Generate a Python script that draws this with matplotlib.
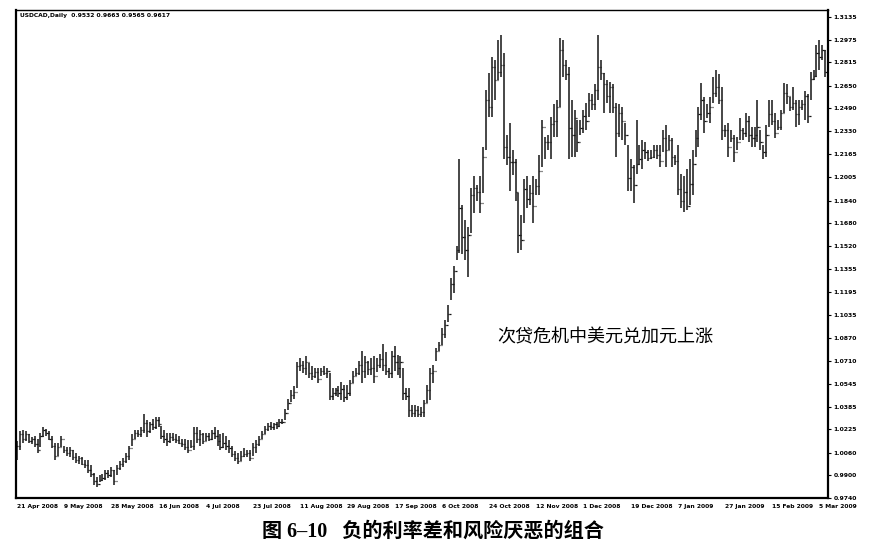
import matplotlib
matplotlib.use("Agg")
import matplotlib.pyplot as plt
import numpy as np

# USDCAD daily bars (prices)
closes = [
    1.011, 1.019, 1.016, 1.019, 1.014, 1.016, 1.012, 1.008, 1.018, 1.022,
    1.020, 1.016, 1.011, 1.004, 1.010, 1.016, 1.008, 1.006, 1.008, 1.003,
    1.001, 1.002, 0.998, 0.997, 0.994, 0.991, 0.986, 0.984, 0.987, 0.988,
    0.992, 0.990, 0.994, 0.986, 0.995, 0.998, 1.000, 1.004, 1.009, 1.016,
    1.020, 1.019, 1.022, 1.027, 1.021, 1.026, 1.024, 1.029, 1.026, 1.018,
    1.016, 1.014, 1.017, 1.016, 1.015, 1.013, 1.012, 1.010, 1.008, 1.011,
    1.020, 1.016, 1.019, 1.014, 1.018, 1.016, 1.020, 1.018, 1.014, 1.010,
    1.013, 1.011, 1.009, 1.005, 1.002, 1.000, 1.004, 1.005, 1.006, 1.002,
    1.010, 1.012, 1.016, 1.019, 1.023, 1.025, 1.024, 1.026, 1.025, 1.028,
    1.028, 1.034, 1.041, 1.047, 1.049, 1.067, 1.068, 1.066, 1.070, 1.062,
    1.060, 1.063, 1.058, 1.064, 1.062, 1.064, 1.046, 1.048, 1.050, 1.048,
    1.051, 1.045, 1.048, 1.055, 1.060, 1.062, 1.068, 1.064, 1.070, 1.065,
    1.066, 1.060, 1.068, 1.072, 1.068, 1.064, 1.062, 1.074, 1.070, 1.066,
    1.070, 1.048, 1.046, 1.036, 1.034, 1.036, 1.033, 1.035, 1.041, 1.050,
    1.062, 1.064, 1.078, 1.082, 1.090, 1.096, 1.104, 1.125, 1.134, 1.149,
    1.179, 1.158, 1.149, 1.160, 1.188, 1.193, 1.190, 1.182, 1.215, 1.255,
    1.250, 1.278, 1.269, 1.275, 1.280, 1.222, 1.215, 1.211, 1.211, 1.190,
    1.160, 1.156, 1.192, 1.185, 1.189, 1.180, 1.194, 1.205, 1.236, 1.225,
    1.225, 1.238, 1.240, 1.250, 1.290, 1.280, 1.273, 1.235, 1.230, 1.242,
    1.225, 1.235, 1.244, 1.240, 1.255, 1.252, 1.262, 1.278, 1.274, 1.266,
    1.258, 1.264, 1.250, 1.232, 1.246, 1.240, 1.230, 1.200, 1.208, 1.195,
    1.210, 1.213, 1.220, 1.218, 1.214, 1.215, 1.220, 1.216, 1.212, 1.228,
    1.220, 1.227, 1.215, 1.212, 1.192, 1.184, 1.190, 1.180, 1.196, 1.210,
    1.228, 1.245, 1.255, 1.240, 1.246, 1.250, 1.260, 1.264, 1.255, 1.234,
    1.234, 1.222, 1.228, 1.218, 1.225, 1.234, 1.232, 1.240, 1.230, 1.228,
    1.230, 1.236, 1.225, 1.218, 1.230, 1.245, 1.240, 1.232, 1.236, 1.246,
    1.260, 1.258, 1.250, 1.253, 1.245, 1.250, 1.252, 1.258, 1.244, 1.270,
    1.272, 1.288, 1.285, 1.290, 1.275, 1.283,
]
highs = [
    1.014, 1.021, 1.022, 1.021, 1.019, 1.017, 1.018, 1.016, 1.020, 1.024,
    1.023, 1.021, 1.018, 1.013, 1.013, 1.018, 1.011, 1.010, 1.010, 1.008,
    1.006, 1.004, 1.003, 1.001, 1.001, 0.997, 0.992, 0.989, 0.990, 0.991,
    0.994, 0.994, 0.996, 0.994, 0.997, 1.000, 1.002, 1.006, 1.011, 1.019,
    1.022, 1.022, 1.024, 1.033, 1.029, 1.028, 1.030, 1.031, 1.031, 1.025,
    1.022, 1.020, 1.020, 1.020, 1.019, 1.018, 1.016, 1.016, 1.015, 1.015,
    1.024, 1.024, 1.022, 1.020, 1.020, 1.020, 1.022, 1.024, 1.022, 1.019,
    1.020, 1.018, 1.015, 1.011, 1.007, 1.006, 1.007, 1.009, 1.008, 1.008,
    1.013, 1.015, 1.018, 1.021, 1.025, 1.027, 1.028, 1.027, 1.028, 1.030,
    1.030, 1.037, 1.044, 1.050, 1.053, 1.070, 1.073, 1.071, 1.074, 1.069,
    1.067, 1.066, 1.066, 1.066, 1.067, 1.066, 1.062, 1.052, 1.052, 1.053,
    1.056, 1.054, 1.054, 1.057, 1.064, 1.066, 1.071, 1.078, 1.074, 1.071,
    1.073, 1.074, 1.073, 1.076, 1.083, 1.077, 1.066, 1.078, 1.081, 1.075,
    1.074, 1.066, 1.052, 1.052, 1.040, 1.040, 1.039, 1.038, 1.043, 1.054,
    1.066, 1.068, 1.080, 1.084, 1.094, 1.100, 1.110, 1.129, 1.138, 1.152,
    1.213, 1.181, 1.170, 1.165, 1.193, 1.201, 1.195, 1.201, 1.222, 1.262,
    1.274, 1.285, 1.283, 1.297, 1.301, 1.288, 1.230, 1.239, 1.220, 1.213,
    1.189, 1.174, 1.199, 1.201, 1.195, 1.201, 1.199, 1.216, 1.241, 1.229,
    1.230, 1.243, 1.252, 1.255, 1.299, 1.297, 1.283, 1.278, 1.255, 1.248,
    1.241, 1.241, 1.248, 1.253, 1.260, 1.259, 1.266, 1.301, 1.283, 1.274,
    1.269, 1.268, 1.266, 1.253, 1.252, 1.250, 1.239, 1.223, 1.213, 1.209,
    1.241, 1.223, 1.227, 1.225, 1.220, 1.220, 1.223, 1.223, 1.223, 1.234,
    1.237, 1.230, 1.228, 1.216, 1.223, 1.203, 1.201, 1.206, 1.213, 1.220,
    1.234, 1.250, 1.267, 1.257, 1.252, 1.257, 1.271, 1.276, 1.273, 1.264,
    1.237, 1.239, 1.234, 1.230, 1.229, 1.242, 1.235, 1.246, 1.244, 1.236,
    1.236, 1.255, 1.234, 1.223, 1.237, 1.255, 1.255, 1.246, 1.241, 1.248,
    1.267, 1.266, 1.257, 1.264, 1.255, 1.255, 1.255, 1.261, 1.259, 1.275,
    1.276, 1.294, 1.297, 1.294, 1.290, 1.292,
]
lows = [
    1.001, 1.008, 1.013, 1.014, 1.013, 1.012, 1.010, 1.006, 1.010, 1.017,
    1.018, 1.015, 1.009, 1.001, 1.004, 1.010, 1.006, 1.004, 1.003, 1.001,
    0.999, 0.998, 0.997, 0.995, 0.992, 0.989, 0.983, 0.982, 0.985, 0.986,
    0.987, 0.988, 0.989, 0.983, 0.990, 0.994, 0.996, 0.999, 1.001, 1.011,
    1.016, 1.017, 1.017, 1.020, 1.017, 1.020, 1.022, 1.023, 1.024, 1.016,
    1.013, 1.011, 1.013, 1.014, 1.013, 1.012, 1.010, 1.008, 1.006, 1.009,
    1.008, 1.013, 1.011, 1.012, 1.014, 1.014, 1.015, 1.016, 1.011, 1.008,
    1.009, 1.008, 1.006, 1.003, 1.000, 0.998, 1.000, 1.003, 1.003, 1.000,
    1.004, 1.006, 1.011, 1.016, 1.019, 1.021, 1.022, 1.022, 1.023, 1.024,
    1.026, 1.029, 1.036, 1.042, 1.044, 1.052, 1.064, 1.062, 1.061, 1.059,
    1.057, 1.059, 1.055, 1.060, 1.061, 1.059, 1.043, 1.043, 1.046, 1.045,
    1.043, 1.042, 1.043, 1.046, 1.055, 1.060, 1.061, 1.055, 1.059, 1.061,
    1.061, 1.055, 1.063, 1.066, 1.064, 1.061, 1.059, 1.059, 1.064, 1.061,
    1.059, 1.043, 1.043, 1.031, 1.031, 1.031, 1.031, 1.031, 1.031, 1.041,
    1.043, 1.055, 1.071, 1.078, 1.082, 1.087, 1.098, 1.114, 1.119, 1.142,
    1.147, 1.146, 1.142, 1.130, 1.161, 1.175, 1.184, 1.175, 1.189, 1.220,
    1.243, 1.243, 1.255, 1.269, 1.271, 1.213, 1.209, 1.191, 1.202, 1.184,
    1.147, 1.149, 1.168, 1.179, 1.181, 1.168, 1.188, 1.188, 1.208, 1.213,
    1.220, 1.213, 1.229, 1.229, 1.250, 1.271, 1.269, 1.213, 1.215, 1.215,
    1.218, 1.230, 1.232, 1.234, 1.243, 1.248, 1.248, 1.255, 1.269, 1.246,
    1.253, 1.246, 1.246, 1.215, 1.229, 1.227, 1.223, 1.191, 1.191, 1.182,
    1.203, 1.209, 1.206, 1.213, 1.212, 1.213, 1.214, 1.213, 1.208, 1.218,
    1.208, 1.220, 1.208, 1.209, 1.188, 1.179, 1.176, 1.177, 1.181, 1.188,
    1.215, 1.222, 1.241, 1.232, 1.242, 1.239, 1.253, 1.257, 1.252, 1.227,
    1.229, 1.215, 1.225, 1.211, 1.220, 1.227, 1.227, 1.229, 1.225, 1.222,
    1.222, 1.225, 1.220, 1.213, 1.215, 1.236, 1.237, 1.228, 1.234, 1.234,
    1.246, 1.252, 1.247, 1.248, 1.236, 1.237, 1.248, 1.241, 1.239, 1.255,
    1.269, 1.271, 1.276, 1.283, 1.271, 1.274,
]

date_labels = ["21 Apr 2008", "9 May 2008", "28 May 2008", "16 Jun 2008",
               "4 Jul 2008", "23 Jul 2008", "11 Aug 2008", "29 Aug 2008",
               "17 Sep 2008", "6 Oct 2008", "24 Oct 2008", "12 Nov 2008",
               "1 Dec 2008", "19 Dec 2008", "7 Jan 2009", "27 Jan 2009",
               "15 Feb 2009", "5 Mar 2009"]
label_step = 16  # bars between date labels

price_ticks = [1.3135, 1.2975, 1.2815, 1.2650, 1.2490, 1.2330, 1.2165,
               1.2005, 1.1840, 1.1680, 1.1520, 1.1355, 1.1195, 1.1035,
               1.0870, 1.0710, 1.0545, 1.0385, 1.0225, 1.0060, 0.9900,
               0.9740]

header = "USDCAD,Daily  0.9532 0.9663 0.9565 0.9617"
note = "次贷危机中美元兑加元上涨"
caption = "图 6–10   负的利率差和风险厌恶的组合"

W, H = 893, 550
fig = plt.figure(figsize=(W / 100, H / 100), dpi=100)
fig.patch.set_facecolor("white")
ax = fig.add_axes([16 / W, 1 - 498 / H, (828 - 16) / W, (498 - 10) / H])

c = np.array(closes)
hi = np.array(highs)
lo = np.array(lows)
op = np.r_[c[0], c[:-1]]  # open = previous close
x = np.arange(len(c))

bar_col = "#151515"
ax.vlines(x, lo, hi, color=bar_col, linewidth=1.1)
ax.hlines(op, x - 0.4, x, color=bar_col, linewidth=0.9)
ax.hlines(c, x, x + 0.4, color=bar_col, linewidth=0.9)

ax.set_xlim(-0.3, 274.9)
ax.set_ylim(0.9740, 1.3185)

ax.set_xticks(np.arange(len(date_labels)) * label_step)
ax.set_xticklabels(date_labels, fontsize=4.3, fontweight="bold", ha="left")
ax.tick_params(axis="x", length=0, pad=4)

ax.yaxis.tick_right()
ax.set_yticks(price_ticks)
ax.set_yticklabels([f"{v:.4f}" for v in price_ticks], fontsize=4.4,
                   fontweight="bold")
ax.tick_params(axis="y", length=2, width=0.8, pad=2)

for side in ["left", "bottom", "right"]:
    ax.spines[side].set_linewidth(1.6)
ax.spines["top"].set_linewidth(1.0)

fig.text(20 / W, 1 - 16 / H, header, fontsize=4.3, fontweight="bold",
         va="center", ha="left")
fig.text(497 / W, 1 - 337 / H, note, fontsize=13, va="center", ha="left",
         family=["Noto Sans CJK SC", "DejaVu Sans"])
fig.text(433 / W, 1 - 532 / H, caption, fontsize=14.5, fontweight="bold",
         va="center", ha="center",
         family=["Liberation Serif", "Noto Sans CJK SC"])

fig.savefig("out.png", dpi=100)
